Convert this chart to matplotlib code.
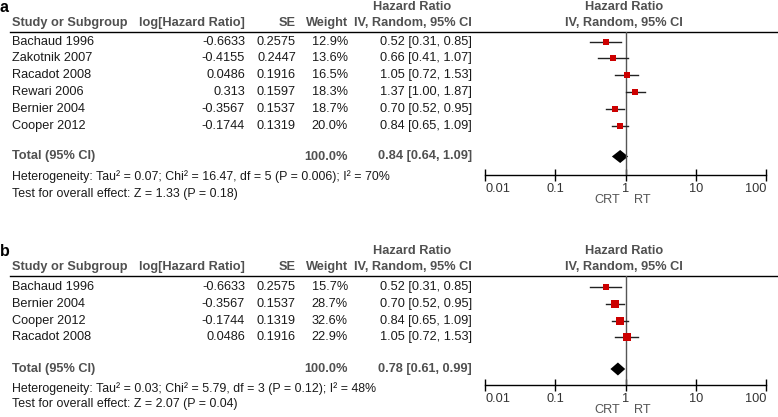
import matplotlib
matplotlib.use('Agg')
import matplotlib.pyplot as plt

plt.rcParams['font.family'] = ['Liberation Sans', 'DejaVu Sans']

# panel a
studies_a = ['Bachaud 1996', 'Zakotnik 2007', 'Racadot 2008', 'Rewari 2006', 'Bernier 2004', 'Cooper 2012']
loghr_a = ['-0.6633', '-0.4155', '0.0486', '0.313', '-0.3567', '-0.1744']
se_a = ['0.2575', '0.2447', '0.1916', '0.1597', '0.1537', '0.1319']
weight_a = [12.9, 13.6, 16.5, 18.3, 18.7, 20.0]
hr_a = [0.52, 0.66, 1.05, 1.37, 0.70, 0.84]
lo_a = [0.31, 0.41, 0.72, 1.00, 0.52, 0.65]
hi_a = [0.85, 1.07, 1.53, 1.87, 0.95, 1.09]
total_a = [0.84, 0.64, 1.09]
het_a = 'Heterogeneity: Tau² = 0.07; Chi² = 16.47, df = 5 (P = 0.006); I² = 70%'
test_a = 'Test for overall effect: Z = 1.33 (P = 0.18)'

# panel b
studies_b = ['Bachaud 1996', 'Bernier 2004', 'Cooper 2012', 'Racadot 2008']
loghr_b = ['-0.6633', '-0.3567', '-0.1744', '0.0486']
se_b = ['0.2575', '0.1537', '0.1319', '0.1916']
weight_b = [15.7, 28.7, 32.6, 22.9]
hr_b = [0.52, 0.70, 0.84, 1.05]
lo_b = [0.31, 0.52, 0.65, 0.72]
hi_b = [0.85, 0.95, 1.09, 1.53]
total_b = [0.78, 0.61, 0.99]
het_b = 'Heterogeneity: Tau² = 0.03; Chi² = 5.79, df = 3 (P = 0.12); I² = 48%'
test_b = 'Test for overall effect: Z = 2.07 (P = 0.04)'

ticks = [0.01, 0.1, 1, 10, 100]
tick_labels = ['0.01', '0.1', '1', '10', '100']

W, H = 778, 417
fig = plt.figure(figsize=(W / 100, H / 100), dpi=100)
bg = fig.add_axes([0, 0, 1, 1])
bg.set_xlim(0, W)
bg.set_ylim(H, 0)
bg.axis('off')

FS = 9.2
TXT = '#1a1a1a'
HDR = '#505050'


def panel(label, line_y, row0, step, total_gap, axis_y, het_gap, test_gap,
          studies, loghr, se, weight, hr, lo, hi, total, het, test):
    bg.text(0, line_y - 25, label, fontsize=11.5, fontweight='bold', color='black', va='center')
    bg.text(412, line_y - 25, 'Hazard Ratio', fontsize=FS, fontweight='bold', color=HDR, ha='center', va='center')
    bg.text(624, line_y - 25, 'Hazard Ratio', fontsize=FS, fontweight='bold', color=HDR, ha='center', va='center')
    y2 = line_y - 9
    bg.text(12, y2, 'Study or Subgroup', fontsize=FS, fontweight='bold', color=HDR, va='center')
    bg.text(245, y2, 'log[Hazard Ratio]', fontsize=FS, fontweight='bold', color=HDR, ha='right', va='center')
    bg.text(296, y2, 'SE', fontsize=FS, fontweight='bold', color=HDR, ha='right', va='center')
    bg.text(348, y2, 'Weight', fontsize=FS, fontweight='bold', color=HDR, ha='right', va='center')
    bg.text(472, y2, 'IV, Random, 95% CI', fontsize=FS, fontweight='bold', color=HDR, ha='right', va='center')
    bg.text(624, y2, 'IV, Random, 95% CI', fontsize=FS, fontweight='bold', color=HDR, ha='center', va='center')
    bg.plot([10, W], [line_y, line_y], color='black', lw=1)

    ys = [row0 + i * step for i in range(len(studies))]
    for i, y in enumerate(ys):
        bg.text(12, y, studies[i], fontsize=FS, color=TXT, va='center')
        bg.text(245, y, loghr[i], fontsize=FS, color=TXT, ha='right', va='center')
        bg.text(296, y, se[i], fontsize=FS, color=TXT, ha='right', va='center')
        bg.text(348, y, '%.1f%%' % weight[i], fontsize=FS, color=TXT, ha='right', va='center')
        bg.text(472, y, '%.2f [%.2f, %.2f]' % (hr[i], lo[i], hi[i]), fontsize=FS, color=TXT, ha='right', va='center')

    ty = ys[-1] + total_gap
    bg.text(12, ty, 'Total (95% CI)', fontsize=FS, fontweight='bold', color=HDR, va='center')
    bg.text(348, ty, '100.0%', fontsize=FS, fontweight='bold', color=HDR, ha='right', va='center')
    bg.text(472, ty, '%.2f [%.2f, %.2f]' % tuple(total), fontsize=FS, fontweight='bold', color=HDR, ha='right', va='center')
    bg.text(12, ty + het_gap, het, fontsize=8.9, color=TXT, va='center')
    bg.text(12, ty + test_gap, test, fontsize=8.9, color=TXT, va='center')
    bg.text(607, axis_y + 25, 'CRT', fontsize=FS, color='#555555', ha='center', va='center')
    bg.text(642, axis_y + 25, 'RT', fontsize=FS, color='#555555', ha='center', va='center')

    # forest axes
    x0, x1 = 485, 766
    ax = fig.add_axes([x0 / W, 1 - axis_y / H, (x1 - x0) / W, (axis_y - line_y) / H])
    ax.patch.set_alpha(0)
    ax.set_xscale('log')
    ax.set_xlim(0.01, 100)
    ax.set_ylim(axis_y, line_y)
    for s in ['top', 'left', 'right']:
        ax.spines[s].set_visible(False)
    ax.spines['bottom'].set_color('black')
    ax.spines['bottom'].set_linewidth(1)
    ax.set_xticks(ticks)
    ax.set_xticklabels(tick_labels)
    ax.minorticks_off()
    ax.tick_params(axis='x', direction='inout', length=8, width=1, labelsize=FS, labelcolor='#333333', pad=2)
    labs = ax.get_xticklabels()
    labs[0].set_ha('left')
    labs[-1].set_ha('right')
    ax.set_yticks([])
    ax.axvline(1, color='#555555', lw=1)
    for i, y in enumerate(ys):
        ax.plot([lo[i], hi[i]], [y, y], color='#222222', lw=1)
        side = 1.5 * weight[i] ** 0.5
        ax.plot(hr[i], y, marker='s', ms=side * 0.72, color='#cc0000', mec='#cc0000', mew=0)
    ax.fill([total[1], total[0], total[2], total[0]], [ty, ty - 6.5, ty, ty + 6.5], color='black', lw=0)


panel('a', 32, 41.5, 16.8, 31, 175, 20, 37,
      studies_a, loghr_a, se_a, weight_a, hr_a, lo_a, hi_a, total_a, het_a, test_a)
panel('b', 276, 287, 16.8, 31.6, 385, 20, 35,
      studies_b, loghr_b, se_b, weight_b, hr_b, lo_b, hi_b, total_b, het_b, test_b)

fig.savefig('out.png', dpi=100)
